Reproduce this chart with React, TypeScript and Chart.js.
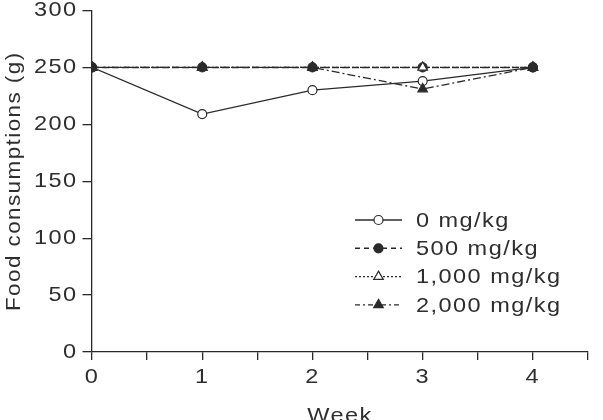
import React, { useEffect, useRef } from 'react';
import { Chart, registerables } from 'chart.js';

Chart.register(...registerables);

// Weekly food consumption per dose group
const weeks = [0, 1, 2, 3, 4];
const dose0 = [250, 209, 230, 238, 250];
const dose500 = [250, 250, 250, 250, 250];
const dose1000 = [250, 250, 250, 250, 250];
const dose2000 = [250, 250, 250, 231, 250];
const seriesLabels = ['0 mg/kg', '500 mg/kg', '1,000 mg/kg', '2,000 mg/kg'];
const yAxisTitle = 'Food consumptions (g)';
const xAxisTitle = 'Week';

const INK = '#2a2a2a';
const TEXT = '#2e2e2e';
const FONT_FAMILY = "'Liberation Sans', Arial, sans-serif";
const FONT_SIZE = 21;
const TEXT_STRETCH = 1.12;
const TEXT_SPACING = 1.3;

const toPoints = (ys: number[]) => weeks.map((w, i) => ({ x: w, y: ys[i] }));

// Wide, slightly tracked lettering for every label on the canvas
const wideText = {
  id: 'wideText',
  beforeDraw(chart: any) {
    const ctx = chart.ctx as any;
    if (ctx.__wide) return;
    ctx.__wide = true;
    const orig = CanvasRenderingContext2D.prototype.fillText;
    ctx.fillText = function (text: string, x: number, y: number) {
      this.save();
      this.translate(x, y);
      this.scale(TEXT_STRETCH, 1);
      this.letterSpacing = TEXT_SPACING + 'px';
      orig.call(this, text, 0, 0);
      this.restore();
    };
  },
};

function drawMarker(ctx: CanvasRenderingContext2D, style: string, x: number, y: number, r: number, fill: string, stroke: string, lw: number) {
  ctx.beginPath();
  if (style === 'triangle') {
    let rad = 0;
    ctx.moveTo(x + Math.sin(rad) * r, y - Math.cos(rad) * r);
    rad += (2 * Math.PI) / 3;
    ctx.lineTo(x + Math.sin(rad) * r, y - Math.cos(rad) * r);
    rad += (2 * Math.PI) / 3;
    ctx.lineTo(x + Math.sin(rad) * r, y - Math.cos(rad) * r);
    ctx.closePath();
  } else {
    ctx.arc(x, y, r, 0, Math.PI * 2);
  }
  ctx.fillStyle = fill;
  ctx.fill();
  ctx.lineWidth = lw;
  ctx.strokeStyle = stroke;
  ctx.stroke();
}

// Legend drawn as line samples with the marker in the middle
const sideLegend = {
  id: 'sideLegend',
  afterDraw(chart: any) {
    const ctx = chart.ctx as CanvasRenderingContext2D;
    const x0 = 355;
    const x1 = 402;
    const tx = 416;
    const y0 = 220;
    const dy = 28.3;
    chart.data.datasets.forEach((ds: any, i: number) => {
      const y = y0 + i * dy;
      ctx.save();
      ctx.strokeStyle = ds.borderColor;
      ctx.lineWidth = ds.borderWidth;
      ctx.setLineDash(ds.legendDash || ds.borderDash || []);
      ctx.beginPath();
      ctx.moveTo(x0, y);
      ctx.lineTo(x1, y);
      ctx.stroke();
      ctx.setLineDash([]);
      drawMarker(ctx, ds.pointStyle, (x0 + x1) / 2, y, ds.pointRadius, ds.pointBackgroundColor, ds.pointBorderColor, ds.pointBorderWidth);
      ctx.fillStyle = TEXT;
      ctx.font = `${FONT_SIZE}px ${FONT_FAMILY}`;
      ctx.textAlign = 'left';
      ctx.textBaseline = 'middle';
      ctx.fillText(ds.label, tx, y + 1);
      ctx.restore();
    });
  },
};

export default function App() {
  const canvasRef = useRef<HTMLCanvasElement | null>(null);

  useEffect(() => {
    if (!canvasRef.current) return;
    const common = {
      borderColor: INK,
      pointBorderColor: INK,
      pointBorderWidth: 1.2,
      fill: false,
      tension: 0,
    };
    const chart = new Chart(canvasRef.current, {
      type: 'line',
      data: {
        datasets: [
          {
            ...common,
            label: seriesLabels[0],
            data: toPoints(dose0),
            borderWidth: 1.3,
            borderDash: [],
            pointStyle: 'circle',
            pointRadius: 4.5,
            pointBackgroundColor: '#ffffff',
            order: 4,
          },
          {
            ...common,
            label: seriesLabels[1],
            data: toPoints(dose500),
            borderWidth: 1.5,
            borderDash: [7, 3],
            legendDash: [5, 4],
            pointStyle: 'circle',
            pointRadius: 4.5,
            pointBackgroundColor: INK,
            order: 3,
          },
          {
            ...common,
            label: seriesLabels[2],
            data: toPoints(dose1000),
            borderWidth: 1.2,
            borderDash: [2, 2],
            pointStyle: 'triangle',
            pointRadius: 5.5,
            pointBackgroundColor: '#ffffff',
            order: 2,
          },
          {
            ...common,
            label: seriesLabels[3],
            data: toPoints(dose2000),
            borderWidth: 1.3,
            borderDash: [8, 3, 2, 3],
            legendDash: [5, 3, 2, 3],
            pointStyle: 'triangle',
            pointRadius: 5.5,
            pointBackgroundColor: INK,
            order: 1,
          },
        ] as any,
      },
      options: {
        animation: false,
        responsive: false,
        maintainAspectRatio: false,
        layout: { padding: { top: 10.5, right: 15, left: 0, bottom: 0 } },
        plugins: {
          legend: { display: false },
          tooltip: { enabled: false },
        },
        scales: {
          x: {
            type: 'linear',
            min: 0,
            max: 4.5,
            afterFit: (s: any) => {
              s.height = 88;
            },
            ticks: {
              stepSize: 0.5,
              autoSkip: false,
              maxRotation: 0,
              padding: 8,
              color: TEXT,
              font: { family: FONT_FAMILY, size: FONT_SIZE, lineHeight: 0.9 },
              callback: (v: any) => (Number.isInteger(v) ? String(v) : ''),
            },
            grid: { drawOnChartArea: false, drawTicks: true, tickLength: 8, color: INK, lineWidth: 1.3 },
            border: { display: true, color: INK, width: 1.3 },
            title: {
              display: true,
              text: xAxisTitle,
              color: TEXT,
              font: { family: FONT_FAMILY, size: FONT_SIZE },
              padding: { top: 0, bottom: 11 },
            },
          },
          y: {
            min: 0,
            max: 300,
            afterFit: (s: any) => {
              s.width = 92;
            },
            ticks: {
              stepSize: 50,
              padding: 5,
              color: TEXT,
              font: { family: FONT_FAMILY, size: FONT_SIZE, lineHeight: 0.5 },
            },
            grid: { drawOnChartArea: false, drawTicks: true, tickLength: 9.5, color: INK, lineWidth: 1.3 },
            border: { display: true, color: INK, width: 1.3 },
            title: {
              display: true,
              text: yAxisTitle,
              color: TEXT,
              font: { family: FONT_FAMILY, size: 20 },
              padding: { top: 2, bottom: 0 },
            },
          },
        },
      } as any,
      plugins: [wideText, sideLegend],
    });
    return () => chart.destroy();
  }, []);

  return (
    <canvas
      ref={canvasRef}
      width={603}
      height={440}
      style={{ position: 'fixed', left: 0, top: 0, width: 603, height: 440 }}
    />
  );
}
